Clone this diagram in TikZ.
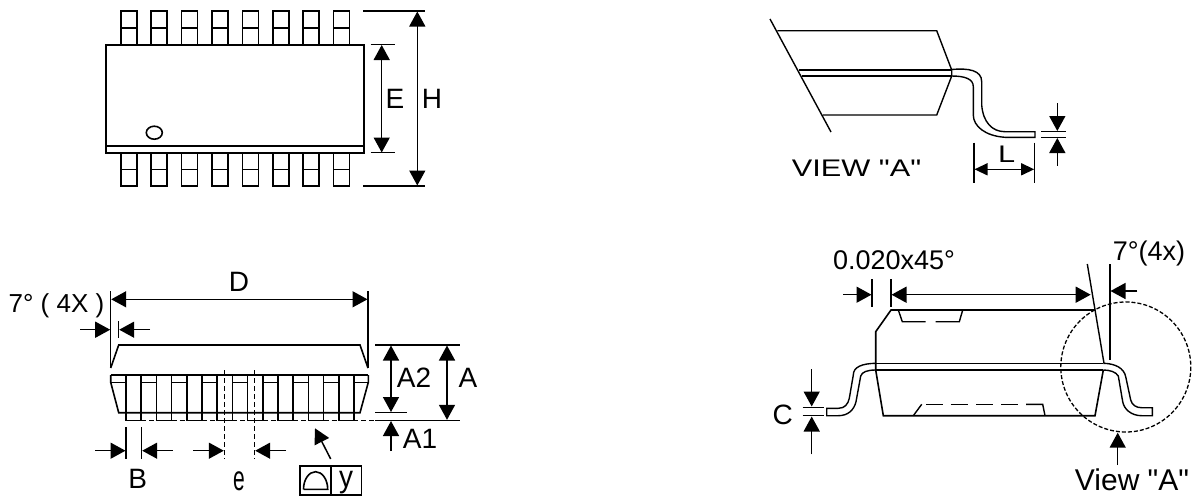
\documentclass[tikz,border=0pt]{standalone}
\usepackage{fontspec}
\newfontfamily\lib{Liberation Sans}
\usetikzlibrary{arrows.meta}
\tikzset{
  x=1pt,y=-1pt,
  every node/.style={inner sep=0pt,outer sep=0pt,font=\lib\fontsize{28}{28}\selectfont},
  line/.style={line width=1.6pt,line join=miter},
  thin line/.style={line width=1.4pt},
  dim/.style={line width=1.5pt,-{Triangle[length=15pt,width=16pt]}},
  dim2/.style={line width=1.5pt,{Triangle[length=15pt,width=16pt]}-{Triangle[length=15pt,width=16pt]}},
  dimS/.style={line width=1.4pt,{Triangle[length=13pt,width=12pt]}-{Triangle[length=13pt,width=12pt]}},
  dashline/.style={line width=1.4pt,dash pattern=on 5pt off 3pt},
}
\begin{document}
\begin{tikzpicture}
\useasboundingbox (0,0) rectangle (1196,496);
% ---------- top view
\draw[line] (105.7,44.7) rectangle (364,152.7);
\draw[line] (105.7,146) -- (364,146);
\foreach \i in {0,...,7}{
  \pgfmathsetmacro{\xa}{120.7+30.4*\i}
  \pgfmathsetmacro{\xb}{136.7+30.4*\i}
  \draw[line] (\xa,44.7) -- (\xa,11) -- (\xb,11) -- (\xb,44.7);
  \draw[line] (\xa,27.7) -- (\xb,27.7);
  \draw[line] (\xa,152.7) -- (\xa,186) -- (\xb,186) -- (\xb,152.7);
  \draw[line] (\xa,169.3) -- (\xb,169.3);
}
\draw[line] (154.3,132.7) ellipse [x radius=8,y radius=6.5];
\draw[thin line] (370.7,44.7) -- (395,44.7);
\draw[thin line] (370.7,152.7) -- (395,152.7);
\draw[thin line] (363,11) -- (425,11);
\draw[thin line] (363,186) -- (425,186);
\draw[dim2] (381.7,45) -- (381.7,152.5);
\draw[dim2] (417.3,11.5) -- (417.3,185.5);
\node (tE) at (395,99) {E};
\node (tH) at (432,99) {H};
% ---------- side view
\draw[thin line] (110.7,291) -- (110.7,368);
\draw[thin line] (368,291) -- (368,368);
\draw[thin line] (118.7,321) -- (118.7,338);
\draw[dim2] (111.2,299.3) -- (367.5,299.3);
\draw[dim] (80,329.7) -- (110.2,329.7);
\draw[dim] (150,329.7) -- (119.2,329.7);
\draw[line] (110.7,368) -- (118.7,345) -- (360,345) -- (368,368);
\draw[line] (110.7,375) -- (368.3,375);
\draw[line] (110.7,375) -- (110.7,382.3) -- (118.7,412.7) -- (360,412.7) -- (368.3,382.3) -- (368.3,375);
\draw[line] (110.7,382.3) -- (126,382.3);
\draw[line] (353.3,382.3) -- (368.3,382.3);
\foreach \i in {0,...,7}{
  \pgfmathsetmacro{\xa}{126+30.4*\i}
  \pgfmathsetmacro{\xb}{141.2+30.4*\i}
  \draw[line] (\xa,375) -- (\xa,420.3) -- (\xb,420.3) -- (\xb,375);
}
\foreach \i in {0,...,6}{
  \pgfmathsetmacro{\xb}{141.2+30.4*\i}
  \pgfmathsetmacro{\xc}{156.4+30.4*\i}
  \draw[line] (\xb,382.3) -- (\xc,382.3);
  \draw[dashline] (\xb,420.3) -- (\xc,420.3);
}
\draw[dashline] (353.4,420.3) -- (375,420.3);
\draw[thin line] (375,420.3) -- (460,420.3);
\draw[thin line] (375,345) -- (460,345);
\draw[thin line] (375,412.5) -- (406.7,412.5);
\draw[dim2] (391,345.5) -- (391,412);
\draw[dim2] (447,345.5) -- (447,419.8);
\draw[dim] (391,451) -- (391,421);
\draw[dashline] (224.3,370) -- (224.3,459);
\draw[dashline] (254.7,370) -- (254.7,459);
\draw[thin line] (126,427) -- (126,459);
\draw[thin line] (141.7,427) -- (141.7,459);
\draw[dim] (95,450.7) -- (125.5,450.7);
\draw[dim] (172.7,450.7) -- (142.2,450.7);
\draw[dim] (193,450.7) -- (223.8,450.7);
\draw[dim] (286,450.7) -- (255.2,450.7);
\draw[dim] (330.7,459) -- (315,428.3);
\draw[line] (300,465.7) rectangle (361.3,495);
\draw[line] (330.7,465.7) -- (330.7,495);
\draw[line] (303.5,489.3) -- (327.7,489.3) arc[start angle=0,end angle=-180,x radius=12.1,y radius=17.6];
\node (tD) at (239,282) {D};
\node[font=\lib\fontsize{26}{26}\selectfont] (tdeg) at (56.5,305.5) {7° ( 4X )};
\node (tA2) at (414,378) {A2};
\node (tA) at (468,378) {A};
\node (tA1) at (420,439) {A1};
\node (tB) at (137.7,479) {B};
\node (te) at (239,481) {\scalebox{0.75}[1.25]{e}};
\node (ty) at (346,483) {\scalebox{1}[1.1]{y}};
% ---------- view A
\draw[thin line] (770,19) -- (831,132);
\draw[thin line] (777.3,30.7) -- (936.7,30.7) -- (951.7,70) -- (951.7,76) -- (936.7,115) -- (822.7,115);
\draw[thin line] (799.3,70) -- (951.7,70);
\draw[thin line] (801.7,76) -- (951.7,76);
\draw[thin line] (951.7,69.5) .. controls (968,68) and (981.7,70) .. (981.7,81.7) -- (981.7,105)
  .. controls (983,122) and (992,131.7) .. (1005,131.7) -- (1035,131.7) -- (1035,137.3) -- (1005,137.3)
  .. controls (985,136) and (973.3,126) .. (973.3,115) -- (973.3,86.7)
  .. controls (973.3,79) and (965,76) .. (951.7,76);
\draw[thin line] (1041,131.7) -- (1065.7,131.7);
\draw[thin line] (1041,137.3) -- (1065.7,137.3);
\draw[dim] (1057.3,103) -- (1057.3,131);
\draw[dim] (1057.3,165.7) -- (1057.3,138);
\draw[thin line] (974,142.7) -- (974,182.7);
\draw[thin line] (1034.7,142.7) -- (1034.7,182.7);
\draw[dimS] (974.5,169.3) -- (1034.2,169.3);
\node[font=\lib\fontsize{24}{24}\selectfont] (tL) at (1006.7,154.5) {\scalebox{1.28}[1]{L}};
\node[font=\lib\fontsize{24}{24}\selectfont] (tviewA) at (856.5,168) {\scalebox{1.28}[1]{VIEW "A"}};
% ---------- end view
\draw[thin line] (872,279.3) -- (872,307.3);
\draw[thin line] (891,279.3) -- (891,307.3);
\draw[dim] (843.3,294.7) -- (871.5,294.7);
\draw[dim2] (891.5,294.7) -- (1090.7,294.7);
\draw[line] (1095,310) -- (891,310) -- (875.7,331.7) -- (875.7,370) -- (883.3,415.7) -- (1095,415.7) -- (1103.3,370);
\draw[line] (875.7,363.3) -- (1103.3,363.3);
\draw[line] (875.7,370) -- (1103.3,370);
\draw[thin line] (1087.3,264) -- (1104,363.3);
\draw[thin line] (1110,264) -- (1110,360);
\draw[dim] (1137.3,291) -- (1110.5,291);
\draw[thin line] (898.3,310) -- (902.3,321.7) -- (925.7,321.7);
\draw[thin line] (935.7,321.7) -- (959.3,321.7) -- (962.7,310);
\draw[thin line] (913.3,415.7) -- (921.7,404.3);
\draw[thin line] (926,404.3) -- (942.7,404.3);
\draw[thin line] (950.7,404.3) -- (967.7,404.3);
\draw[thin line] (976,404.3) -- (992.7,404.3);
\draw[thin line] (1001,404.3) -- (1017.7,404.3);
\draw[thin line] (1026,404.3) -- (1042.7,404.3) -- (1045,415.7);
% left lead
\draw[thin line] (875.7,363.3) .. controls (862,363.5) and (853.3,367) .. (853.3,375) -- (849.3,398.3)
  .. controls (848,404) and (845,408.3) .. (838.3,408.3) -- (826.7,408.3) -- (826.7,415.7) -- (838.3,415.7)
  .. controls (848,415.7) and (854,410) .. (856,401.7) -- (860.7,376)
  .. controls (862,372) and (867,370) .. (875.7,370);
% right lead
\draw[thin line] (1103.3,363.3) .. controls (1115,363.5) and (1124,368) .. (1125.7,376.7) -- (1130.7,400)
  .. controls (1132,405) and (1136,407.7) .. (1141.7,407.7) -- (1152.3,407.7) -- (1152.3,415.7) -- (1141.7,415.7)
  .. controls (1131,415.7) and (1124,409) .. (1122.7,401.7) -- (1118.3,376)
  .. controls (1116,372) and (1110,370) .. (1103.3,370);
\draw[thin line] (802.7,407.3) -- (824,407.3);
\draw[thin line] (802.7,415.7) -- (824,415.7);
\draw[dim] (811.7,369.3) -- (811.7,406.5);
\draw[dim] (811.7,454.3) -- (811.7,416.5);
\draw[line width=1.3pt,dash pattern=on 4pt off 2pt] (1125.8,367) circle [radius=65];
\draw[dim] (1117.7,465) -- (1117.7,432.7);
\node (tC) at (782.7,415) {C};
\node[font=\lib\fontsize{27}{27}\selectfont] (t020) at (894,260) {0.020x45°};
\node[font=\lib\fontsize{27}{27}\selectfont] (t7x) at (1149,254) {7°(4x)};
\node[font=\lib\fontsize{30}{30}\selectfont] (tview) at (1132,480) {View "A"};
\end{tikzpicture}
\end{document}
